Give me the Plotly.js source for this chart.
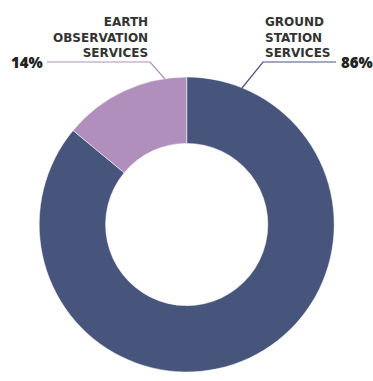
<!DOCTYPE html>
<html>
<head>
<meta charset="utf-8">
<script src="https://cdn.plot.ly/plotly-3.0.1.min.js"></script>
<style>html,body{margin:0;padding:0;background:#fff;}#chart{width:373px;height:381px;}</style>
</head>
<body>
<div id="chart"></div>
<script>
const labels = ["GROUND<br>STATION<br>SERVICES", "EARTH<br>OBSERVATION<br>SERVICES"];
const values = [86, 14];
const colors = ["#47557D", "#B08FBC"];

const W = 373, H = 381;
const px = x => x / W;
const py = y => 1 - y / H;
const total = values.reduce((a, b) => a + b, 0);
const pct = values.map(v => Math.round(v / total * 100) + "%");

const cx = 186.7, cy = 224.5, R = 147.5;

const trace = {
  type: "pie",
  labels: labels,
  values: values,
  marker: {colors: colors, line: {color: "#ffffff", width: 0.5}},
  hole: 0.55,
  sort: false,
  direction: "clockwise",
  rotation: 0,
  textinfo: "none",
  hoverinfo: "label+percent",
  showlegend: false,
  domain: {x: [px(cx - R), px(cx + R)], y: [py(cy + R), py(cy - R)]}
};

const labelFont = {family: "DejaVu Sans, sans-serif", size: 12, color: "#333333", weight: 700};
const pctFont = {family: "Open Sans, sans-serif", size: 15, color: "#222222", weight: 800};

const layout = {
  width: W, height: H,
  margin: {l: 0, r: 0, t: 0, b: 0},
  paper_bgcolor: "#ffffff",
  plot_bgcolor: "#ffffff",
  showlegend: false,
  annotations: [
    {xref: "paper", yref: "paper", x: px(150), y: py(37.5), xanchor: "right", yanchor: "middle",
     align: "right", text: labels[1], showarrow: false, font: labelFont},
    {xref: "paper", yref: "paper", x: px(45), y: py(62), xanchor: "right", yanchor: "middle",
     text: pct[1], showarrow: false, font: pctFont},
    {xref: "paper", yref: "paper", x: px(263), y: py(37.5), xanchor: "left", yanchor: "middle",
     align: "left", text: labels[0], showarrow: false, font: labelFont},
    {xref: "paper", yref: "paper", x: px(339), y: py(62), xanchor: "left", yanchor: "middle",
     text: pct[0], showarrow: false, font: pctFont}
  ],
  shapes: [
    {type: "path", xref: "paper", yref: "paper",
     path: `M ${px(47)} ${py(62)} L ${px(150)} ${py(62)} L ${px(165)} ${py(79)}`,
     line: {color: colors[1], width: 1.2}},
    {type: "path", xref: "paper", yref: "paper",
     path: `M ${px(336)} ${py(62)} L ${px(263)} ${py(62)} L ${px(242)} ${py(88)}`,
     line: {color: colors[0], width: 1.2}}
  ]
};

Plotly.newPlot("chart", [trace], layout, {displayModeBar: false, staticPlot: true});
</script>
</body>
</html>
